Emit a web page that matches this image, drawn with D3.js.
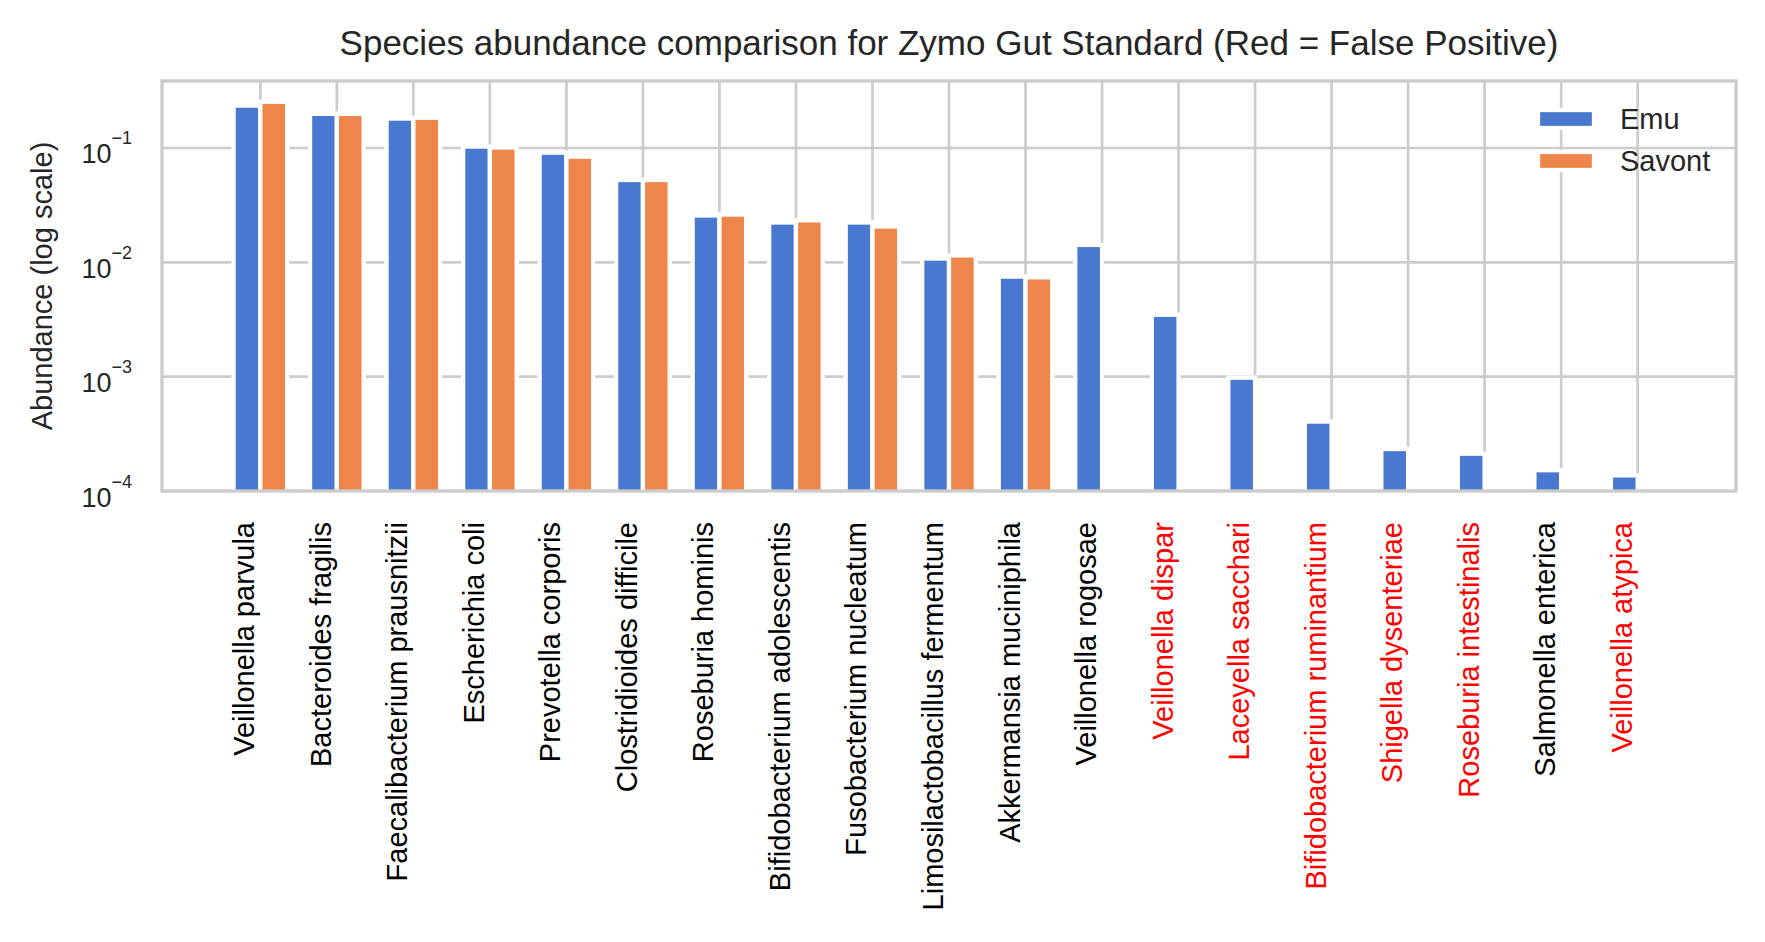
<!DOCTYPE html>
<html>
<head>
<meta charset="utf-8">
<script src="https://cdn.jsdelivr.net/npm/d3@7"></script>
<style>
  body { margin: 0; background: #fff; }
  text { font-family: "Liberation Sans", Arial, sans-serif; }
</style>
</head>
<body>
<div id="chart"></div>
<script>
var w = 1765;
var h = 942;

// species, in plot order
var species = [
  "Veillonella parvula", "Bacteroides fragilis", "Faecalibacterium prausnitzii",
  "Escherichia coli", "Prevotella corporis", "Clostridioides difficile",
  "Roseburia hominis", "Bifidobacterium adolescentis", "Fusobacterium nucleatum",
  "Limosilactobacillus fermentum", "Akkermansia muciniphila", "Veillonella rogosae",
  "Veillonella dispar", "Laceyella sacchari", "Bifidobacterium ruminantium",
  "Shigella dysenteriae", "Roseburia intestinalis", "Salmonella enterica",
  "Veillonella atypica"
];

var emu = [0.235, 0.199, 0.181, 0.103, 0.091, 0.0525, 0.0257, 0.0223, 0.0223,
  0.0108, 0.0075, 0.0142, 0.00348, 0.00098, 0.000405, 0.000233, 0.000212,
  0.000152, 0.000137];

var savont = [0.254, 0.199, 0.184, 0.101, 0.084, 0.0525, 0.0262, 0.0233, 0.0206,
  0.0115, 0.0074, 0, 0, 0, 0, 0, 0, 0, 0];

var falsePositive = ["Veillonella dispar", "Laceyella sacchari",
  "Bifidobacterium ruminantium", "Shigella dysenteriae",
  "Roseburia intestinalis", "Veillonella atypica"];

var yTicks = [1e-4, 1e-3, 1e-2, 1e-1];
var yExp = ["4", "3", "2", "1"];

var seriesNames = ["Emu", "Savont"];
var colors = ["#4878d0", "#ee854a"];

var mLeft = 162, mRight = 1736, mTop = 81, mBottom = 491;
var bw = 0.35;

var svg = d3.select("#chart")
  .append("svg")
  .attr("width", w)
  .attr("height", h);

var x = d3.scaleLinear()
  .domain([-0.35 - 0.935, 18.35 + 0.935])
  .range([mLeft, mRight]);

var y = d3.scaleLog()
  .domain([1e-4, Math.pow(10, -0.414)])
  .range([mBottom, mTop]);

// grid
svg.append("g")
  .selectAll("line")
  .data(yTicks)
  .enter().append("line")
  .attr("x1", mLeft).attr("x2", mRight)
  .attr("y1", function(d) { return y(d); })
  .attr("y2", function(d) { return y(d); })
  .attr("stroke", "#cccccc")
  .attr("stroke-width", 2.7);

svg.append("g")
  .selectAll("line")
  .data(species)
  .enter().append("line")
  .attr("x1", function(d, i) { return x(i); })
  .attr("x2", function(d, i) { return x(i); })
  .attr("y1", mTop).attr("y2", mBottom)
  .attr("stroke", "#cccccc")
  .attr("stroke-width", 2.7);

// bars
var series = [emu, savont];
series.forEach(function(vals, s) {
  var g = svg.append("g");
  vals.forEach(function(d, i) {
    if (d <= 0) return;
    g.append("rect")
      .attr("x", x(i - bw + s * bw))
      .attr("width", x(bw) - x(0))
      .attr("y", y(d))
      .attr("height", mBottom - y(d) + 3)
      .attr("fill", colors[s])
      .attr("stroke", "#fff")
      .attr("stroke-width", 4.3);
  });
});

// frame
svg.append("rect")
  .attr("x", mLeft).attr("y", mTop)
  .attr("width", mRight - mLeft).attr("height", mBottom - mTop)
  .attr("fill", "none")
  .attr("stroke", "#cccccc")
  .attr("stroke-width", 3.3);

// y tick labels
var yl = svg.append("g")
  .selectAll("text")
  .data(yTicks)
  .enter().append("text")
  .attr("x", mLeft - 30)
  .attr("y", function(d) { return y(d) + 15.5; })
  .attr("text-anchor", "end")
  .attr("fill", "#262626");
yl.append("tspan").attr("font-size", 27).text("10");
yl.append("tspan").attr("font-size", 18).attr("dy", -19)
  .text(function(d, i) { return "\u2212" + yExp[i]; });

// x tick labels
svg.append("g")
  .selectAll("text")
  .data(species)
  .enter().append("text")
  .attr("transform", function(d, i) {
    return "translate(" + (x(i) - 6) + "," + (mBottom + 31) + ") rotate(-90)";
  })
  .attr("text-anchor", "end")
  .attr("font-size", 29)
  .attr("fill", function(d) { return falsePositive.indexOf(d) >= 0 ? "#ff0000" : "#000000"; })
  .text(function(d) { return d; });

// y axis title
svg.append("text")
  .attr("transform", "translate(52," + ((mTop + mBottom) / 2) + ") rotate(-90)")
  .attr("text-anchor", "middle")
  .attr("font-size", 29)
  .attr("fill", "#262626")
  .text("Abundance (log scale)");

// title
svg.append("text")
  .attr("x", (mLeft + mRight) / 2)
  .attr("y", 55)
  .attr("text-anchor", "middle")
  .attr("font-size", 35)
  .attr("fill", "#262626")
  .text("Species abundance comparison for Zymo Gut Standard (Red = False Positive)");

// legend
var legend = svg.append("g")
  .selectAll("g")
  .data(seriesNames)
  .enter().append("g")
  .attr("transform", function(d, i) { return "translate(1538," + (110 + i * 42) + ")"; });

legend.append("rect")
  .attr("width", 56).attr("height", 18)
  .attr("fill", function(d, i) { return colors[i]; })
  .attr("stroke", "#fff")
  .attr("stroke-width", 4.3);

legend.append("text")
  .attr("x", 82)
  .attr("y", 19)
  .attr("font-size", 29)
  .attr("fill", "#262626")
  .text(function(d) { return d; });
</script>
</body>
</html>
